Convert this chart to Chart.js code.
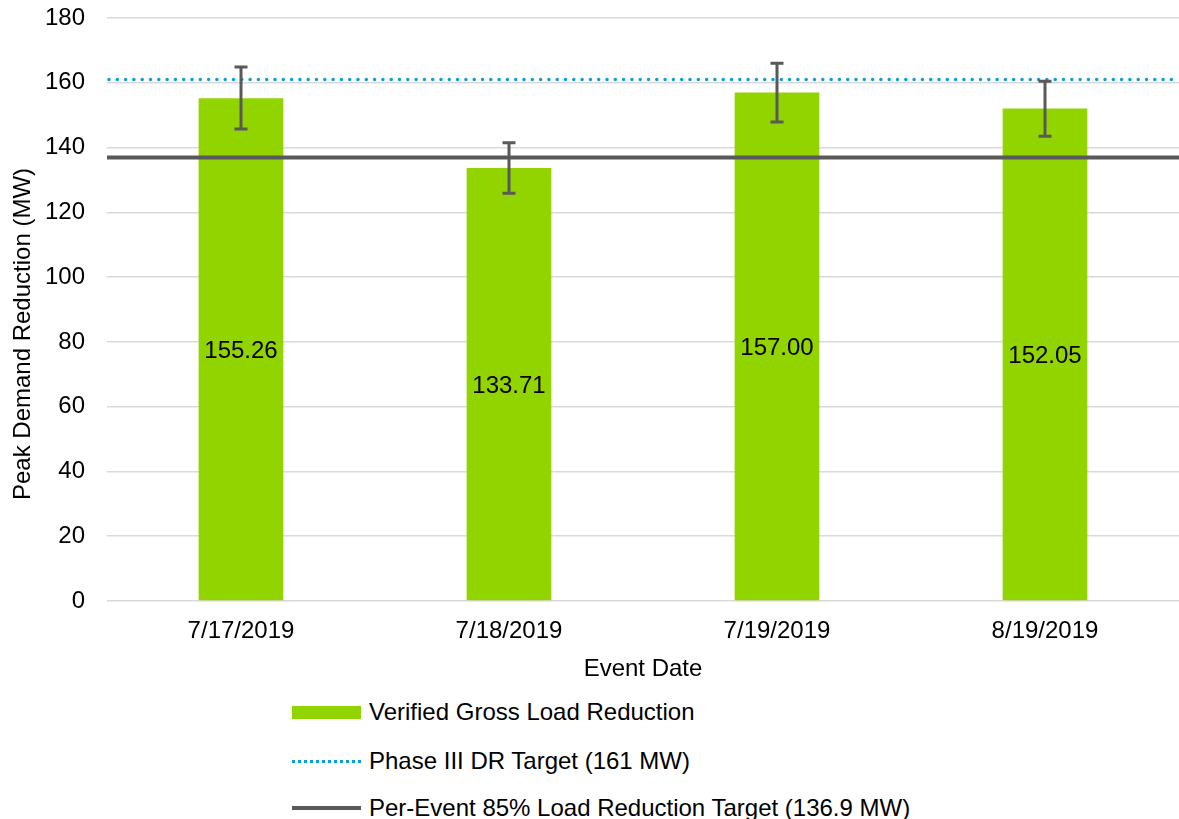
<!DOCTYPE html>
<html>
<head>
<meta charset="utf-8">
<script src="https://cdn.jsdelivr.net/npm/chart.js@4"></script>
<style>
  body { margin: 0; background: #fff; font-family: "Liberation Sans", Arial, sans-serif; }
  #wrap { position: relative; width: 1179px; height: 819px; }
  #chart { position: absolute; left: 0; top: 0; }
  .legend { position: absolute; left: 292px; font-size: 24px; color: #000; }
  .item { position: absolute; left: 0; white-space: nowrap; height: 28px; line-height: 28px; }
  .swatch { position: absolute; left: 0; width: 69px; }
  .item span { position: absolute; left: 77px; top: 0; }
</style>
</head>
<body>
<div id="wrap">
  <canvas id="chart" width="1179" height="690"></canvas>
  <div class="legend">
    <div class="item" style="top:698px"><div class="swatch" style="top:8px;height:13px;background:#92d400"></div><span>Verified Gross Load Reduction</span></div>
    <div class="item" style="top:747px"><div class="swatch" style="top:13px;height:0;border-top:3px dotted #0a9fd8"></div><span>Phase III DR Target (161 MW)</span></div>
    <div class="item" style="top:794px"><div class="swatch" style="top:12px;height:4px;background:#595959"></div><span>Per-Event 85% Load Reduction Target (136.9 MW)</span></div>
  </div>
</div>
<script>
// Event dates and verified reductions
const eventDates = ['7/17/2019', '7/18/2019', '7/19/2019', '8/19/2019'];
const reduction = [155.26, 133.71, 157.00, 152.05];
const errLow = [145.7, 125.9, 147.9, 143.5];
const errHigh = [164.9, 141.5, 166.0, 160.5];

// Target lines
const phaseTarget = 161;
const eventTarget = 136.9;

const yTicks = [0, 20, 40, 60, 80, 100, 120, 140, 160, 180];
const yTitle = 'Peak Demand Reduction (MW)';

const fontFamily = '"Liberation Sans", Arial, sans-serif';

// draws target lines, error bars, value labels and the y title
const overlay = {
    id: 'overlay',
    afterDatasetsDraw(chart) {
        const ctx = chart.ctx;
        const area = chart.chartArea;
        const x = chart.scales.x;
        const y = chart.scales.y;
        ctx.save();

        // dotted phase target
        let py = y.getPixelForValue(phaseTarget);
        ctx.strokeStyle = '#0a9fd8';
        ctx.lineWidth = 3.5;
        ctx.lineCap = 'round';
        ctx.setLineDash([0, 8.3]);
        ctx.beginPath();
        ctx.moveTo(area.left + 2, py);
        ctx.lineTo(area.right, py);
        ctx.stroke();
        ctx.setLineDash([]);
        ctx.lineCap = 'butt';

        // solid per-event target
        py = y.getPixelForValue(eventTarget);
        ctx.strokeStyle = '#595959';
        ctx.lineWidth = 4;
        ctx.beginPath();
        ctx.moveTo(area.left, py);
        ctx.lineTo(area.right, py);
        ctx.stroke();

        // error bars
        ctx.lineWidth = 3;
        ctx.strokeStyle = '#595959';
        eventDates.forEach((d, i) => {
            const cx = x.getPixelForValue(i);
            const top = y.getPixelForValue(errHigh[i]);
            const bot = y.getPixelForValue(errLow[i]);
            ctx.beginPath();
            ctx.moveTo(cx, top);
            ctx.lineTo(cx, bot);
            ctx.moveTo(cx - 6.5, top);
            ctx.lineTo(cx + 6.5, top);
            ctx.moveTo(cx - 6.5, bot);
            ctx.lineTo(cx + 6.5, bot);
            ctx.stroke();
        });

        // value labels in the middle of each bar
        ctx.fillStyle = '#000';
        ctx.font = '24px ' + fontFamily;
        ctx.textAlign = 'center';
        ctx.textBaseline = 'middle';
        reduction.forEach((v, i) => {
            const cx = x.getPixelForValue(i);
            const cy = y.getPixelForValue(v / 2);
            ctx.fillText(v.toFixed(2), cx, cy + 2);
        });

        // y axis title, sits a bit below the plot centre like the original
        ctx.translate(23, 334);
        ctx.rotate(-Math.PI / 2);
        ctx.fillText(yTitle, 0, 0);
        ctx.restore();
    }
};

const ctx = document.getElementById('chart').getContext('2d');
new Chart(ctx, {
    type: 'bar',
    data: {
        labels: eventDates,
        datasets: [{
            label: 'Verified Gross Load Reduction',
            data: reduction,
            backgroundColor: '#92d400',
            categoryPercentage: 1,
            barPercentage: 0.316
        }]
    },
    options: {
        responsive: false,
        animation: false,
        layout: { padding: { top: 18, right: 0, left: 0, bottom: 0 } },
        scales: {
            x: {
                grid: { display: false, drawTicks: false },
                border: { display: false },
                ticks: {
                    color: '#000',
                    font: { family: fontFamily, size: 24 },
                    padding: 16
                },
                title: {
                    display: true,
                    text: 'Event Date',
                    color: '#000',
                    font: { family: fontFamily, size: 24 },
                    padding: { top: 4, bottom: 6 }
                },
                afterFit(scale) { scale.height = 89; }
            },
            y: {
                min: 0,
                max: 180,
                afterBuildTicks(scale) { scale.ticks = yTicks.map(v => ({ value: v })); },
                grid: { color: '#d9d9d9', lineWidth: 1.5, drawTicks: false },
                border: { display: false },
                ticks: {
                    color: '#000',
                    font: { family: fontFamily, size: 24 },
                    padding: 22
                },
                afterFit(scale) {
                    scale.width = 107;
                    scale.paddingTop = 0;
                    scale.paddingBottom = 0;
                }
            }
        },
        plugins: {
            legend: { display: false },
            tooltip: { enabled: false }
        }
    },
    plugins: [overlay]
});
</script>
</body>
</html>
